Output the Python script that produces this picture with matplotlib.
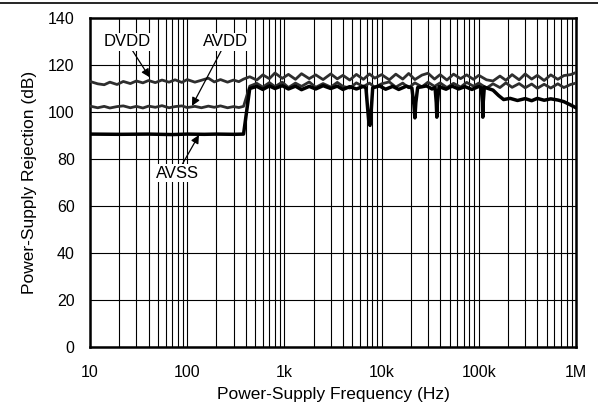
import matplotlib.pyplot as plt
from matplotlib.ticker import FixedLocator, NullFormatter

plt.rcParams['font.family'] = ['Liberation Sans', 'DejaVu Sans']

# DVDD and AVDD share one frequency grid (Hz)
freq = [10, 12, 14, 16, 19, 22, 26, 30, 35, 40, 47, 55, 65, 75, 88, 100, 120, 140,
        165, 190, 220, 260, 300, 340, 380, 440, 520, 600, 700, 800, 950, 1100,
        1300, 1500, 1800, 2100, 2500, 3000, 3500, 4000, 4700, 5500, 6500, 7500,
        8500, 10000, 12000, 14000, 16500, 19000, 22000, 26000, 30000, 35000,
        40000, 47000, 55000, 65000, 75000, 88000, 100000, 120000, 140000, 165000,
        190000, 220000, 260000, 300000, 350000, 400000, 470000, 550000, 650000,
        750000, 880000, 1000000]

dvdd = [113.0, 112.0, 111.6, 112.7, 111.7, 113.0, 112.1, 113.2, 112.4, 113.4,
        112.5, 113.6, 112.7, 113.7, 112.6, 113.8, 112.7, 113.5, 114.4, 112.8,
        113.8, 112.7, 113.6, 112.9, 114.0, 115.0, 113.6, 115.8, 114.2, 116.6,
        114.3, 116.0, 113.9, 116.3, 114.2, 115.8, 113.8, 116.2, 114.1, 115.6,
        113.6, 116.0, 113.9, 116.2, 114.4, 115.9, 113.7, 116.1, 114.0, 116.4,
        113.8, 115.7, 116.5, 114.0, 115.9, 113.6, 116.1, 114.2, 115.8, 113.9,
        115.6, 113.7, 113.2, 115.3, 113.5, 115.9, 113.7, 116.2, 114.0, 115.6,
        113.4, 115.8, 113.9, 115.5, 115.9, 116.8]

avdd = [102.5, 101.8, 102.4, 101.7, 102.3, 102.6, 101.8, 102.4, 101.7, 102.5,
        102.0, 102.7, 101.8, 102.3, 102.6, 101.9, 102.4, 101.8, 102.5, 102.0,
        102.6, 101.8, 102.3, 101.9, 102.4, 111.0, 112.2, 110.6, 112.5, 110.8,
        112.7, 110.4, 112.3, 110.9, 112.8, 110.5, 112.1, 110.6, 112.6, 110.9,
        110.2, 112.4, 110.8, 112.3, 110.5, 112.0, 112.8, 110.6, 112.3, 110.3,
        112.4, 110.7, 112.7, 110.9, 112.4, 110.4, 112.2, 110.6, 112.6, 111.0,
        112.3, 110.2, 112.0, 110.4, 112.4, 110.5, 112.1, 110.3, 111.9, 110.1,
        111.8, 110.2, 112.0, 110.4, 111.7, 112.3]

freq_avss = [10, 20, 40, 70, 100, 150, 200, 300, 380, 440, 520, 600, 700, 800,
             950, 1100, 1300, 1500, 1800, 2100, 2500, 3000, 3500, 4000, 4700,
             5500, 6500, 6900, 7200, 7400, 7600, 7800, 8100, 9500, 11000, 13000,
             15000, 18000, 20500, 21500, 22000, 22500, 23500, 29000, 33000,
             35500, 36500, 37000, 37500, 39000, 46000, 53000, 62000, 72000,
             85000, 100000, 106000, 109000, 110000, 111000, 114000, 125000,
             140000, 160000, 180000, 210000, 250000, 300000, 350000, 400000,
             470000, 550000, 650000, 750000, 880000, 1000000]

avss = [90.6, 90.5, 90.6, 90.4, 90.6, 90.5, 90.6, 90.5, 90.6, 110.0, 110.9,
        109.6, 111.1, 110.0, 111.2, 109.8, 111.0, 109.5, 110.9, 109.8, 111.2,
        110.0, 111.0, 109.6, 110.8, 109.8, 110.9, 110.2, 101.0, 95.5, 94.3,
        100.0, 110.3, 111.1, 109.7, 110.9, 109.6, 111.0, 110.2, 103.0, 97.5,
        104.0, 110.4, 111.1, 109.8, 110.4, 104.0, 97.8, 104.0, 110.8, 109.7,
        111.0, 109.8, 110.8, 109.6, 110.9, 110.3, 104.0, 97.8, 104.0, 110.6,
        110.0, 109.3, 107.0, 105.3, 105.8, 104.9, 105.7, 104.8, 105.8, 105.0,
        105.6, 105.1, 104.4, 103.0, 101.8]

fig = plt.figure(figsize=(5.98, 4.12), dpi=100)
ax = fig.add_axes([90/598, 65/412, 486/598, 329/412])

ax.plot(freq, dvdd, color='#2e2e2e', lw=2.0, zorder=3)
ax.plot(freq, avdd, color='#2e2e2e', lw=2.0, zorder=3)
ax.plot(freq_avss, avss, color='black', lw=2.5, zorder=4)

ax.set_xscale('log')
ax.set_xlim(10, 1e6)
ax.set_ylim(0, 140)
ax.set_xticks([10, 100, 1e3, 1e4, 1e5, 1e6])
ax.set_xticklabels(['10', '100', '1k', '10k', '100k', '1M'])
minors = [m * 10**d for d in range(1, 6) for m in range(2, 10)]
ax.xaxis.set_minor_locator(FixedLocator(minors))
ax.xaxis.set_minor_formatter(NullFormatter())
ax.set_yticks(range(0, 141, 20))
ax.tick_params(which='both', length=0, labelsize=11.5, colors='black')
ax.tick_params(axis='x', pad=13)
ax.tick_params(axis='y', pad=11)
ax.grid(True, which='both', axis='x', color='black', lw=0.8)
ax.grid(True, which='major', axis='y', color='black', lw=0.8)
for s in ax.spines.values():
    s.set_linewidth(1.8)

ax.set_xlabel('Power-Supply Frequency (Hz)', fontsize=12.5, labelpad=5)
ax.set_ylabel('Power-Supply Rejection (dB)', fontsize=12.5, labelpad=8)

box = dict(facecolor='white', edgecolor='none', pad=1)
arrow = dict(arrowstyle='-|>', color='black', lw=0.9, mutation_scale=12,
             shrinkA=0, shrinkB=0)
ax.annotate('DVDD', xy=(41, 114.8), xytext=(24, 129.8), ha='center', va='center',
            fontsize=12, bbox=box, arrowprops=arrow, zorder=6)
ax.annotate('AVDD', xy=(112, 102.6), xytext=(250, 129.8), ha='center', va='center',
            fontsize=12, bbox=box, arrowprops=arrow, zorder=6)
ax.annotate('AVSS', xy=(132, 90.2), xytext=(79, 74), ha='center', va='center',
            fontsize=12, bbox=box, arrowprops=arrow, zorder=6)

fig.add_artist(plt.Line2D([0, 1], [1 - 3/412, 1 - 3/412], color='black', lw=1.2))

fig.savefig('out.png', dpi=100)
